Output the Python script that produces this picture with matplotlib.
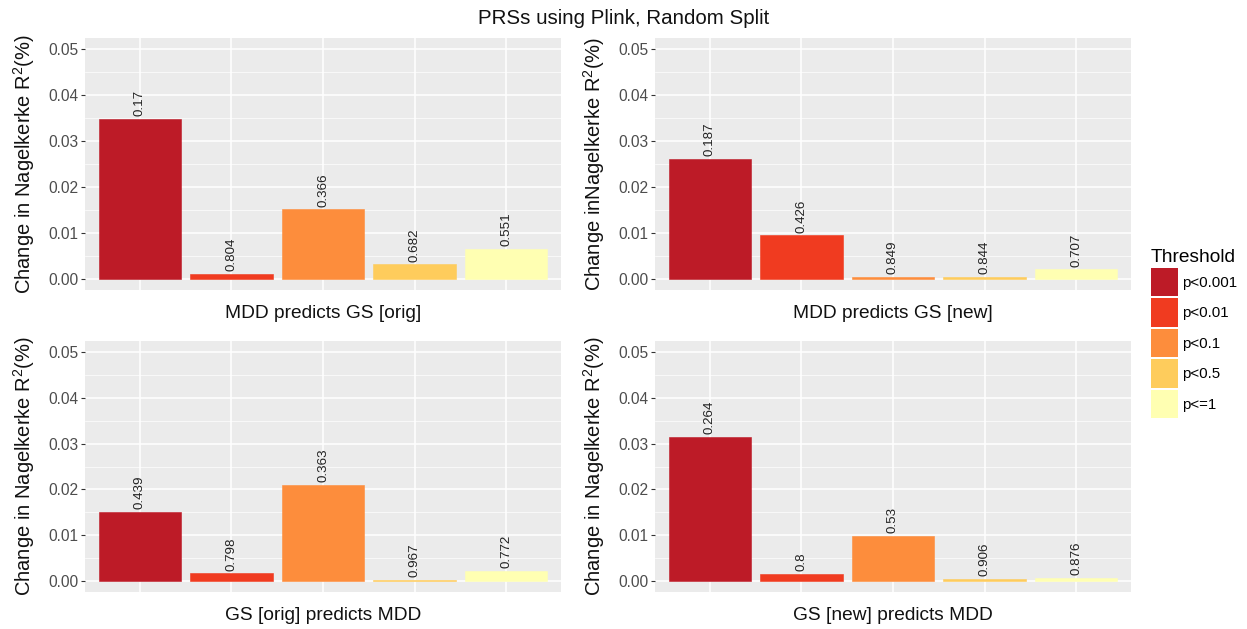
import matplotlib
matplotlib.use("Agg")
import matplotlib.pyplot as plt
from matplotlib.patches import Patch
from matplotlib.ticker import MultipleLocator
import numpy as np

plt.rcParams["font.family"] = ["Liberation Sans", "DejaVu Sans"]
plt.rcParams["mathtext.fontset"] = "custom"
plt.rcParams["mathtext.rm"] = "Liberation Sans"

# thresholds and YlOrRd-like palette
thresholds = ["p<0.001", "p<0.01", "p<0.1", "p<0.5", "p<=1"]
colors = ["#bd1b27", "#f03b20", "#fd8d3c", "#fecc5c", "#ffffb2"]

panel_titles = ["MDD predicts GS [orig]", "MDD predicts GS [new]",
                "GS [orig] predicts MDD", "GS [new] predicts MDD"]
ylabels = ["Change in Nagelkerke R$\\mathregular{^2}$(%)",
           "Change inNagelkerke R$\\mathregular{^2}$(%)",
           "Change in Nagelkerke R$\\mathregular{^2}$(%)",
           "Change in Nagelkerke R$\\mathregular{^2}$(%)"]

# change in R2 per threshold
r2_orig_fwd = [0.0349, 0.0010, 0.0151, 0.0031, 0.0065]
r2_new_fwd = [0.0261, 0.0094, 0.0004, 0.0004, 0.0020]
r2_orig_rev = [0.0151, 0.0016, 0.0209, 0.0001, 0.0021]
r2_new_rev = [0.0315, 0.0015, 0.0098, 0.0004, 0.0006]

# p-values shown above the bars
p_orig_fwd = ["0.17", "0.804", "0.366", "0.682", "0.551"]
p_new_fwd = ["0.187", "0.426", "0.849", "0.844", "0.707"]
p_orig_rev = ["0.439", "0.798", "0.363", "0.967", "0.772"]
p_new_rev = ["0.264", "0.8", "0.53", "0.906", "0.876"]

r2_all = [r2_orig_fwd, r2_new_fwd, r2_orig_rev, r2_new_rev]
p_all = [p_orig_fwd, p_new_fwd, p_orig_rev, p_new_rev]

W, H = 1247, 629
fig = plt.figure(figsize=(W / 100, H / 100), dpi=100)

# panel boxes in pixels: left, top, right, bottom
boxes = [(85, 38, 561, 290), (655, 38, 1131, 290),
         (85, 341, 561, 592), (655, 341, 1131, 592)]

x = np.arange(1, 6)
for i, (l, t, r, b) in enumerate(boxes):
    ax = fig.add_axes([l / W, 1 - b / H, (r - l) / W, (b - t) / H])
    ax.set_facecolor("#ebebeb")
    bars = ax.bar(x, r2_all[i], width=0.9, color=colors, zorder=3,
                  edgecolor=colors, linewidth=0.4)
    ax.bar_label(bars, labels=p_all[i], rotation=90, padding=2,
                 fontsize=9.6, color="#222222")
    ax.set_xlim(0.4, 5.6)
    ax.set_ylim(-0.0025, 0.0525)
    ax.yaxis.set_minor_locator(MultipleLocator(0.005))
    ax.set_yticks(np.arange(0, 0.051, 0.01))
    ax.set_yticklabels(["0.00", "0.01", "0.02", "0.03", "0.04", "0.05"])
    ax.set_xticks(x)
    ax.set_xticklabels([])
    ax.grid(which="major", color="white", linewidth=1.1, zorder=0)
    ax.grid(which="minor", axis="y", color="white", linewidth=0.5, zorder=0)
    ax.tick_params(axis="x", length=0)
    ax.tick_params(axis="y", which="major", length=3, width=0.8,
                   color="#333333", labelsize=11.2, labelcolor="#4d4d4d", pad=2)
    ax.tick_params(axis="y", which="minor", length=0)
    for s in ax.spines.values():
        s.set_visible(False)
    ax.set_xlabel(panel_titles[i], fontsize=13.8, color="#111111", labelpad=7)
    ax.set_ylabel(ylabels[i], fontsize=14.5, color="#111111", labelpad=8)

fig.text(0.5, 1 - 18 / H, "PRSs using Plink, Random Split",
         ha="center", va="center", fontsize=14.8, color="#111111")

handles = [Patch(facecolor=c, edgecolor="none") for c in colors]
leg = fig.legend(handles, thresholds, title="Threshold",
                 loc="upper left", bbox_to_anchor=(1148 / W, 1 - 246 / H),
                 frameon=False, fontsize=10.8, title_fontsize=13.8,
                 handlelength=1.8, handleheight=2.55, labelspacing=0.13,
                 handletextpad=0.3, borderaxespad=0, borderpad=0.2)
leg._legend_box.align = "left"

fig.savefig("out.png", dpi=100)
